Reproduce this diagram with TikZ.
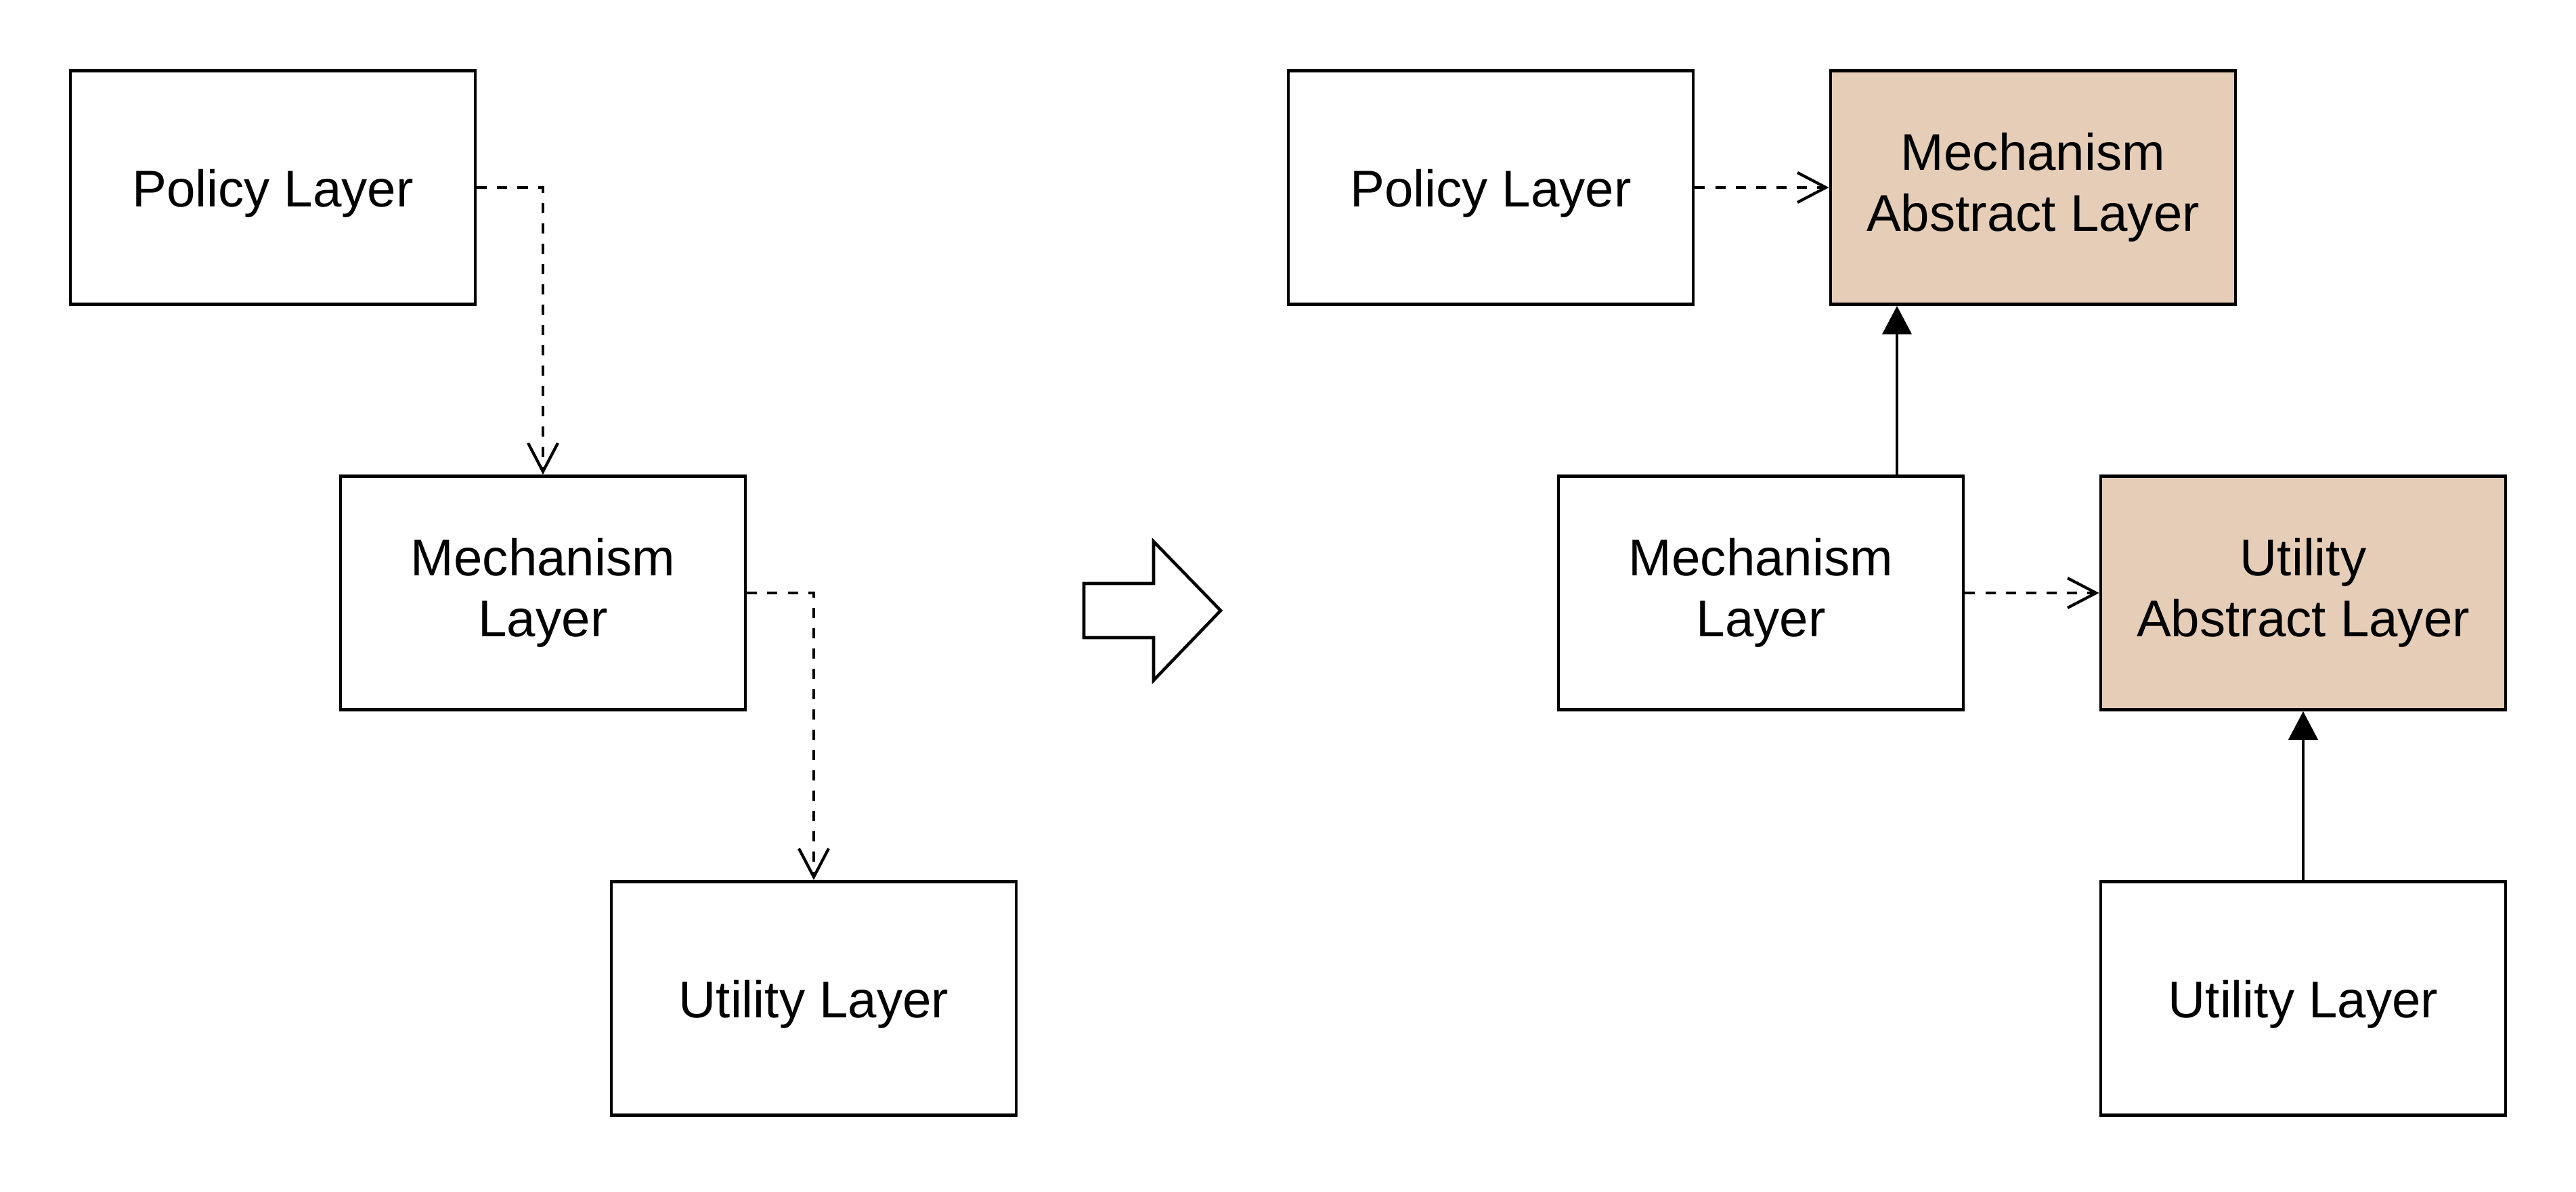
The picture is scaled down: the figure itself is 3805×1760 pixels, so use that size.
\documentclass[tikz,border=0pt]{standalone}
\usepackage{fontspec}
\setmainfont{Liberation Sans}
\usetikzlibrary{arrows.meta,calc}

\definecolor{abstractfill}{RGB}{229,205,183}

\begin{document}
\begin{tikzpicture}[x=0.01cm, y=-0.01cm,
    layer/.style={draw, line width=1.3pt, minimum width=5.98cm, minimum height=3.45cm,
      align=center, inner sep=0pt, font=\fontsize{21.7}{25.6}\selectfont,
      execute at begin node=\rule{0pt}{20.5pt}},
    abstract/.style={layer, fill=abstractfill},
    dep/.style={line width=1.2pt, dash pattern=on 0.15cm off 0.15cm,
      -{Straight Barb[length=4.2mm, width=4.4mm, line width=1.2pt]}},
    impl/.style={line width=1.2pt, -{Triangle[length=4.2mm, width=4.3mm]}}]
  \useasboundingbox (0, 0) rectangle (3805, 1760);

  % before
  \node[layer] (policyL) at (403, 277) {Policy Layer};
  \node[layer] (mechL) at (802, 876) {Mechanism\\Layer};
  \node[layer] (utilL) at (1202, 1475) {Utility Layer};

  \draw[dep] (policyL.east) -| (mechL.north);
  \draw[dep] (mechL.east) -| (utilL.north);

  % big arrow
  \draw[line width=1.3pt, line join=miter]
    (1601, 862) -- (1704, 862) -- (1704, 800) -- (1803, 902)
    -- (1704, 1005) -- (1704, 942) -- (1601, 942) -- cycle;

  % after
  \node[layer] (policyR) at (2202, 277) {Policy Layer};
  \node[abstract] (mechAbs) at (3003, 277) {Mechanism\\Abstract Layer};
  \node[layer] (mechR) at (2601, 876) {Mechanism\\Layer};
  \node[abstract] (utilAbs) at (3402, 876) {Utility\\Abstract Layer};
  \node[layer] (utilR) at (3402, 1475) {Utility Layer};

  \coordinate (overlap) at ($(mechAbs.south west)!0.5!(mechR.north east)$);

  \draw[dep] (policyR) -- (mechAbs);
  \draw[dep] (mechR) -- (utilAbs);
  \draw[impl] (overlap |- mechR.north) -- (overlap |- mechAbs.south);
  \draw[impl] (utilR) -- (utilAbs);
\end{tikzpicture}
\end{document}
